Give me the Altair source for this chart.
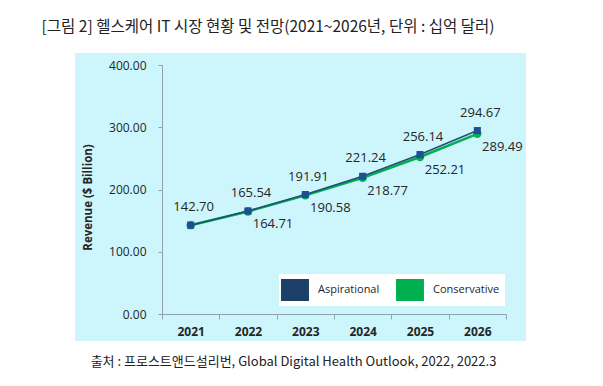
import altair as alt
import pandas as pd

years = ["2021", "2022", "2023", "2024", "2025", "2026"]
aspirational = [142.70, 165.54, 191.91, 221.24, 256.14, 294.67]
conservative = [142.70, 164.71, 190.58, 218.77, 252.21, 289.49]
conservative_labels = ["", "164.71", "190.58", "218.77", "252.21", "289.49"]
aspirational_labels = ["142.70", "165.54", "191.91", "221.24", "256.14", "294.67"]
series_names = ["Aspirational", "Conservative"]
series_colors = ["#1B3F66", "#00B050"]

title_text = "[그림 2] 헬스케어 IT 시장 현황 및 전망(2021~2026년, 단위 : 십억 달러)"
source_text = "출처 : 프로스트앤드설리번, Global Digital Health Outlook, 2022, 2022.3"

asp = pd.DataFrame({"year": years, "value": aspirational, "series": "Aspirational",
                    "label": aspirational_labels})
con = pd.DataFrame({"year": years, "value": conservative, "series": "Conservative",
                    "label": conservative_labels})

W, H = 344, 249

x_enc = alt.X("year:O", scale=alt.Scale(type="band", paddingInner=0, paddingOuter=0),
              axis=alt.Axis(title=source_text, labelAngle=0, tickBand="extent", zindex=1,
                            labelFont="Open Sans", labelFontWeight="bold", labelFontSize=12,
                            labelColor="#262626", labelPadding=7, tickSize=5,
                            domainColor="#8fa3ad", tickColor="#8fa3ad",
                            titleFont="Noto Sans CJK KR", titleFontSize=13,
                            titleFontWeight="normal", titleColor="#222222",
                            titleX=131, titleY=47, titleBaseline="middle"))
y_enc = alt.Y("value:Q", scale=alt.Scale(domain=[0, 400]),
              axis=alt.Axis(values=[0, 100, 200, 300, 400], format=".2f", grid=False, zindex=1,
                            title="Revenue ($ Billion)", titleFont="Open Sans",
                            titleFontSize=11.5, titleFontWeight="bold", titleColor="#262626",
                            titlePadding=15, titleY=132,
                            labelFont="Open Sans", labelFontSize=12, labelColor="#262626",
                            labelPadding=12, tickSize=4,
                            domainColor="#8fa3ad", tickColor="#8fa3ad"))

color_scale = alt.Scale(domain=series_names, range=series_colors)

panel = alt.Chart(pd.DataFrame({"a": [0]})).mark_rect(color="#CDF5FC").encode(
    x=alt.value(-87), x2=alt.value(364), y=alt.value(-12), y2=alt.value(276))

con_line = alt.Chart(con).mark_line(strokeWidth=2.5, color="#00B050").encode(
    x=x_enc, y=y_enc)
con_pts = alt.Chart(con).mark_point(shape="circle", filled=True, size=70, opacity=1).encode(
    x=x_enc, y=y_enc,
    color=alt.Color("series:N", scale=color_scale,
                    legend=alt.Legend(title=None, orient="none", legendX=117, legendY=209,
                                      direction="horizontal", fillColor="white",
                                      padding=5, symbolType="M-1.27,-1L1.27,-1L1.27,1L-1.27,1Z",
                                      symbolSize=484, symbolOpacity=1, symbolStrokeWidth=0,
                                      labelFont="Open Sans", labelFontSize=11,
                                      labelColor="#262626", labelOffset=12,
                                      columnPadding=16)))
asp_line = alt.Chart(asp).mark_line(strokeWidth=1.6, color="#1F4E79").encode(
    x=x_enc, y=y_enc)
asp_pts = alt.Chart(asp).mark_point(shape="square", filled=True, size=50, opacity=1,
                                    color="#1F4E96").encode(x=x_enc, y=y_enc)

asp_text = alt.Chart(asp).mark_text(font="Open Sans", fontSize=13, color="#262626",
                                    dx=3, dy=-18).encode(x=x_enc, y=y_enc, text="label:N")
con_text = alt.Chart(con).mark_text(font="Open Sans", fontSize=13, color="#262626",
                                    dx=25, dy=13).encode(x=x_enc, y=y_enc, text="label:N")

chart = alt.layer(panel, con_line, con_pts, asp_line, asp_pts, asp_text, con_text).properties(
    width=W, height=H,
    title=alt.TitleParams(title_text, font="Noto Sans CJK KR", fontSize=15.5,
                          fontWeight="normal", color="#222222", anchor="middle",
                          frame="group", dx=-66, offset=18),
    autosize=alt.AutoSizeParams(type="none"),
    padding={"left": 154, "top": 57, "right": 89, "bottom": 64},
).configure_view(stroke=None, fill=None).configure(background="white")

chart.save("out.html", embed_options={"renderer": "svg", "actions": False})
